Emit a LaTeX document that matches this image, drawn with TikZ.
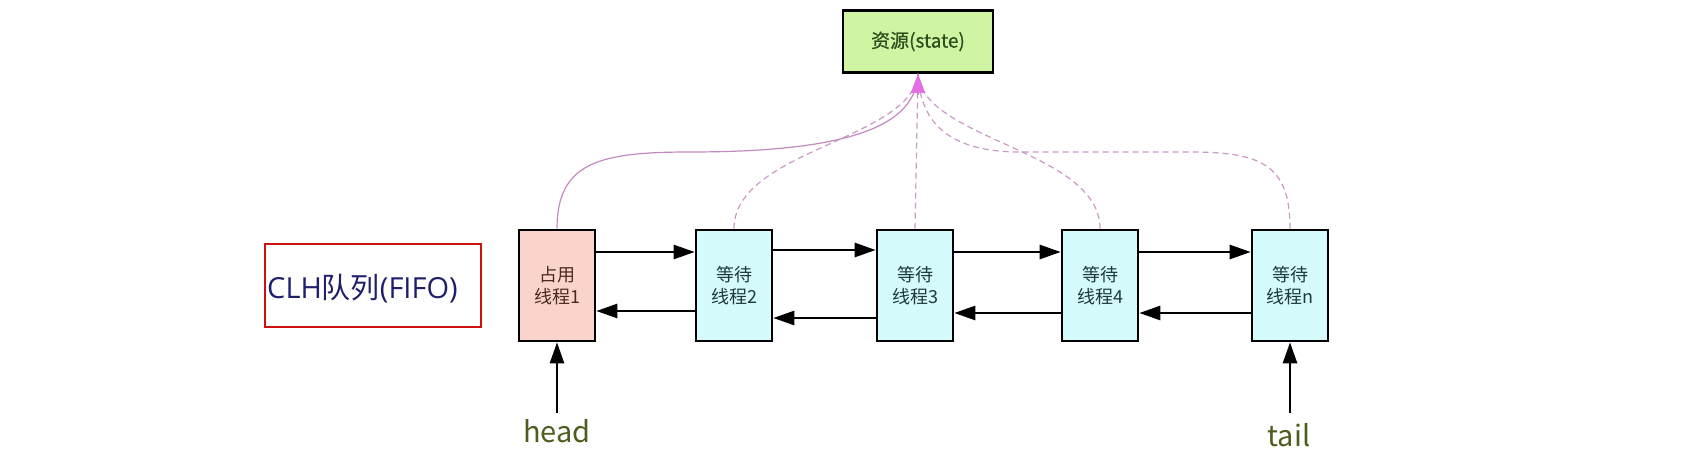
\documentclass[tikz,border=0pt]{standalone}
\usepackage{fontspec}
\setmainfont{Noto Sans CJK SC}
\newfontfamily\latinf{Open Sans}
\newfontfamily\boldcjk[FakeBold=0.6]{Noto Sans CJK SC}
\usetikzlibrary{arrows.meta,calc}
\definecolor{pinkfill}{HTML}{FAD4CB}
\definecolor{cyanfill}{HTML}{D6FBFD}
\definecolor{greenfill}{HTML}{CFF5A2}
\definecolor{tipcol}{HTML}{E36FE3}
\definecolor{dashcol}{HTML}{C99AC4}
\definecolor{solidcol}{HTML}{C48AC0}
\definecolor{clhtext}{HTML}{1F1F6B}
\definecolor{clhred}{HTML}{CC1111}
\definecolor{labtext}{HTML}{4D5D1F}
\definecolor{restext}{HTML}{2D4D1D}
\definecolor{pinktext}{HTML}{4A2A20}
\definecolor{cyantext}{HTML}{1E3A3A}
\tikzset{
  thread/.style={draw=black, line width=2.6pt, minimum width=76pt, minimum height=111pt,
    inner sep=0pt, align=center, font=\fontsize{18}{22}\selectfont},
  holdbox/.style={thread, fill=pinkfill, text=pinktext},
  waitbox/.style={thread, fill=cyanfill, text=cyantext},
  resbox/.style={draw=black, line width=2.6pt, fill=greenfill, minimum width=150pt,
    minimum height=62pt, inner sep=0pt, text=restext, font=\boldcjk\fontsize{19}{22}\selectfont},
  clhbox/.style={draw=clhred, line width=2pt, minimum width=216pt, minimum height=83pt, inner sep=0pt},
  link/.style={line width=2.6pt, -{Triangle[length=21pt,width=14pt]}},
  ptr/.style={line width=2.6pt, -{Triangle[length=21pt,width=14pt]}},
  dep/.style={dashcol, line width=1.2pt, dash pattern=on 6pt off 4pt},
  deps/.style={solidcol, line width=1.2pt},
  lab/.style={text=labtext, font=\fontsize{29}{34}\selectfont, inner sep=0pt},
}
\begin{document}
\begin{tikzpicture}[x=1pt,y=-1pt]
\useasboundingbox (0,0) rectangle (1693,462);
\node[resbox] (res) at (918,41.5) {资源(state)};
\node[clhbox, anchor=north west] (clh) at (264,243) {};
\node[anchor=base west, inner sep=0pt, text=clhtext, font=\fontsize{29}{32}\selectfont] (clht) at (267,298) {{\latinf CLH}队列{\latinf (FIFO)}};
\node[holdbox] (b1) at (557,285.5) {占用\\线程1};
\node[waitbox] (b2) at (734,285.5) {等待\\线程2};
\node[waitbox] (b3) at (915,285.5) {等待\\线程3};
\node[waitbox] (b4) at (1100,285.5) {等待\\线程4};
\node[waitbox] (bn) at (1290,285.5) {等待\\线程n};
% forward links
\draw[link] ([yshift=33.5pt]b1.east) -- ([yshift=33.5pt]b2.west);
\draw[link] ([yshift=35.5pt]b2.east) -- ([yshift=35.5pt]b3.west);
\draw[link] ([yshift=33.5pt]b3.east) -- ([yshift=33.5pt]b4.west);
\draw[link] ([yshift=33.5pt]b4.east) -- ([yshift=33.5pt]bn.west);
% backward links
\draw[link] ([yshift=-25.5pt]b2.west) -- ([yshift=-25.5pt]b1.east);
\draw[link] ([yshift=-32.5pt]b3.west) -- ([yshift=-32.5pt]b2.east);
\draw[link] ([yshift=-27.5pt]b4.west) -- ([yshift=-27.5pt]b3.east);
\draw[link] ([yshift=-27.5pt]bn.west) -- ([yshift=-27.5pt]b4.east);
% head / tail
\coordinate (hs) at (557,413);
\coordinate (ts) at (1290,413);
\draw[ptr] (hs) -- (b1.south);
\draw[ptr] (ts) -- (bn.south);
\node[lab, anchor=base] (head) at (557,442) {head};
\node[lab, anchor=base] (tail) at (1289,446) {tail};
% state dependencies
\draw[dep] (b2.north) .. controls (734,150) and (912,140) .. (res.south);
\draw[dep] (b3.north) -- (res.south);
\draw[dep] (b4.north) .. controls (1100,150) and (922,140) .. (res.south);
\draw[dep] (bn.north) .. controls (1290,165) and (1262,152) .. (1190,152) -- (1020,152) .. controls (952,152) and (920,125) .. (res.south);
\draw[deps] (b1.north) .. controls (557,162) and (600,152) .. (690,152) .. controls (860,152) and (916,122) .. (res.south);
\draw[tipcol, line width=1.2pt, -{Triangle[length=19pt,width=14pt]}] ([yshift=-21pt]res.south) -- (res.south);
\end{tikzpicture}
\end{document}
